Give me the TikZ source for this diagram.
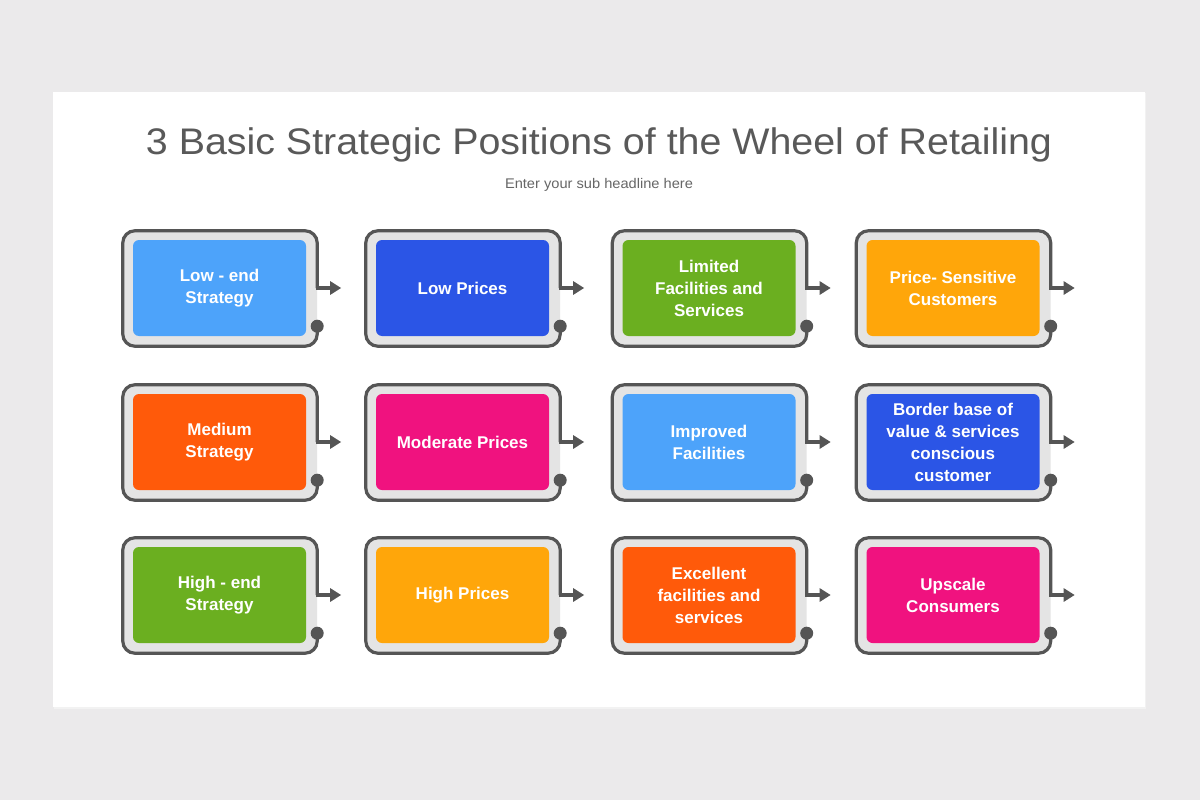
\documentclass[tikz,border=0pt]{standalone}
\usepackage{fontspec}
\usepackage{graphicx}
\setmainfont{Liberation Sans}
\usetikzlibrary{arrows.meta,calc}
\pgfdeclarelayer{back}
\pgfdeclarelayer{bg}
\pgfsetlayers{back,bg,main}
\definecolor{pagebg}{HTML}{EBEAEB}
\definecolor{framecol}{HTML}{555555}
\definecolor{framefill}{HTML}{E4E4E4}
\definecolor{titlecol}{HTML}{595959}
\definecolor{subcol}{HTML}{666666}
\definecolor{cLblue}{HTML}{4DA3FA}
\definecolor{cBlue}{HTML}{2B55E6}
\definecolor{cGreen}{HTML}{6BAF20}
\definecolor{cOrange}{HTML}{FFA60A}
\definecolor{cRed}{HTML}{FF5A0A}
\definecolor{cPink}{HTML}{F0127F}
\tikzset{
  cellbox/.style={minimum width=173pt, minimum height=96pt, rounded corners=6pt,
    text=white, font=\bfseries\fontsize{17}{22}\selectfont, align=center, inner sep=0pt},
  frameline/.style={draw=framecol, line width=3.2pt},
}
\newcommand\wcell[5]{%
  \node[cellbox, fill=#4] (#1) at (#2,#3) {#5};
  \begin{pgfonlayer}{bg}
    \path ($(#1.north west)+(-10,-9)$) coordinate (#1-tl)
          ($(#1.south east)+(11,10)$) coordinate (#1-br);
    \fill[framefill, rounded corners=12pt] (#1-tl) rectangle (#1-br);
    \coordinate (#1-dot) at ($(#1-br)+(0,-20)$);
    \draw[frameline, rounded corners=12pt] (#1-dot) -- (#1-br) -- (#1-br -| #1-tl)
        -- (#1-tl) -- (#1-tl -| #1-br) -- (#1-br |- #1.east);
    \draw[frameline, line cap=rect, -{Triangle[length=11pt,width=13pt]}]
        (#1-br |- #1.east) coordinate (#1-ao) -- ($(#1-ao)+(24,0)$) coordinate (#1-at);
    \fill[framecol] (#1-dot) circle (6.5pt);
  \end{pgfonlayer}
}
\begin{document}
\begin{tikzpicture}[x=1pt,y=-1pt]
\useasboundingbox (0,0) rectangle (1200,800);
\begin{pgfonlayer}{back}
\fill[pagebg] (0,0) rectangle (1200,800);
\fill[black!5] (54,93) rectangle (1146,709);
\fill[white] (53,92) rectangle (1145,707);
\end{pgfonlayer}
\node[anchor=base, text=titlecol, inner sep=0pt] (title) at (599,154)
  {\resizebox{906pt}{\height}{\fontsize{37}{40}\selectfont 3 Basic Strategic Positions of the Wheel of Retailing}};
\node[anchor=base, text=subcol, inner sep=0pt] (sub) at (599,188)
  {\resizebox{188pt}{\height}{\fontsize{14}{16}\selectfont Enter your sub headline here}};

\wcell{c11}{219.5}{288}{cLblue}{Low - end\\Strategy}
\wcell{c12}{462.5}{288}{cBlue}{Low Prices}
\wcell{c13}{709}{288}{cGreen}{Limited\\Facilities and\\Services}
\wcell{c14}{953}{288}{cOrange}{Price- Sensitive\\Customers}

\wcell{c21}{219.5}{442}{cRed}{Medium\\Strategy}
\wcell{c22}{462.5}{442}{cPink}{Moderate Prices}
\wcell{c23}{709}{442}{cLblue}{Improved\\Facilities}
\wcell{c24}{953}{442}{cBlue}{Border base of\\value \& services\\conscious\\customer}

\wcell{c31}{219.5}{595}{cGreen}{High - end\\Strategy}
\wcell{c32}{462.5}{595}{cOrange}{High Prices}
\wcell{c33}{709}{595}{cRed}{Excellent\\facilities and\\services}
\wcell{c34}{953}{595}{cPink}{Upscale\\Consumers}
\end{tikzpicture}
\end{document}
